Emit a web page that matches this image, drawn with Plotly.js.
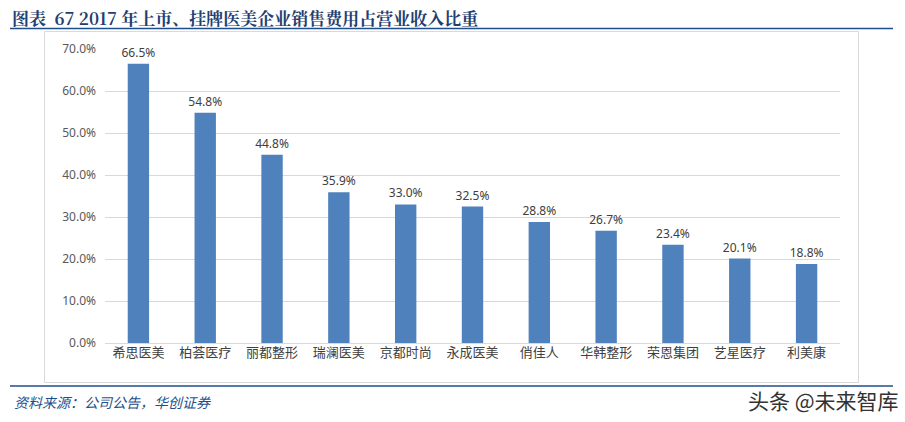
<!DOCTYPE html>
<html>
<head>
<meta charset="utf-8">
<script src="https://cdn.plot.ly/plotly-3.0.1.min.js"></script>
<style>
html,body{margin:0;padding:0;background:#fff;}
#chart{width:905px;height:422px;}
</style>
</head>
<body>
<div id="chart"></div>
<script>
var categories = ["希思医美","柏荟医疗","丽都整形","瑞澜医美","京都时尚","永成医美","俏佳人","华韩整形","荣恩集团","艺星医疗","利美康"];
var ratios = [66.5, 54.8, 44.8, 35.9, 33.0, 32.5, 28.8, 26.7, 23.4, 20.1, 18.8];
var tickVals = [0,10,20,30,40,50,60,70];
var tickText = tickVals.map(function(v){return v.toFixed(1)+"%";});
var titleText = "图表  67 2017 年上市、挂牌医美企业销售费用占营业收入比重";
var sourceText = "资料来源：公司公告，华创证券";
var watermarkText = "头条 @未来智库";

var W = 905, H = 422, L = 105, R = 840, T = 49, B = 343;
function px(x){return (x-L)/(R-L);}
function py(y){return (B-y)/(B-T);}

var trace = {
  type: "bar",
  x: categories,
  y: ratios,
  marker: {color: "#4F81BD"},
  width: 0.32,
  text: ratios.map(function(v){return v.toFixed(1)+"%";}),
  textposition: "outside",
  constraintext: "none",
  textfont: {family: "Noto Sans, sans-serif", size: 12, color: "#404040"},
  cliponaxis: false,
  hoverinfo: "skip"
};

var layout = {
  width: W, height: H,
  margin: {l: L, r: W-R, t: T, b: H-B},
  paper_bgcolor: "#fff",
  plot_bgcolor: "rgba(0,0,0,0)",
  showlegend: false,
  uniformtext: {mode: false},
  xaxis: {
    type: "category",
    showgrid: false,
    showline: false,
    zeroline: false,
    ticks: "",
    tickfont: {family: "Noto Sans CJK SC, sans-serif", size: 13, color: "#404040"},
    fixedrange: true
  },
  yaxis: {
    range: [0, 70],
    tickvals: tickVals,
    ticktext: tickText,
    showgrid: true,
    gridcolor: "#D9D9D9",
    gridwidth: 1,
    zeroline: true,
    zerolinecolor: "#D9D9D9",
    zerolinewidth: 1,
    showline: false,
    ticks: "",
    ticklabelstandoff: 8,
    tickfont: {family: "Noto Sans, sans-serif", size: 12, color: "#595959"},
    fixedrange: true
  },
  shapes: [
    {type: "rect", xref: "paper", yref: "paper", x0: px(44.5), x1: px(858.5), y0: py(31.5), y1: py(382.5), line: {color: "#D9D9D9", width: 1}, fillcolor: "rgba(0,0,0,0)", layer: "below"},
    {type: "line", xref: "paper", yref: "paper", x0: px(10), x1: px(893), y0: py(28.5), y1: py(28.5), line: {color: "#1F4E8C", width: 1.5}},
    {type: "line", xref: "paper", yref: "paper", x0: px(10), x1: px(893), y0: py(386), y1: py(386), line: {color: "#1F4E8C", width: 1.5}}
  ],
  annotations: [
    {xref: "paper", yref: "paper", x: px(10), y: py(17), xanchor: "left", yanchor: "middle", showarrow: false,
     text: "<b>" + titleText + "</b>", font: {family: "Noto Serif CJK SC, Noto Sans CJK SC, serif", size: 17, color: "#1F3F73"}},
    {xref: "paper", yref: "paper", x: px(12), y: py(402), xanchor: "left", yanchor: "middle", showarrow: false,
     text: "<i>" + sourceText + "</i>", font: {family: "Noto Sans CJK SC, serif", size: 14, color: "#1F4E8C"}},
    {xref: "paper", yref: "paper", x: px(901), y: py(400), xanchor: "right", yanchor: "middle", showarrow: false,
     text: watermarkText, font: {family: "Noto Sans CJK SC, sans-serif", size: 21, color: "#333333"}}
  ]
};

Plotly.newPlot("chart", [trace], layout, {displayModeBar: false, staticPlot: true});
</script>
</body>
</html>
